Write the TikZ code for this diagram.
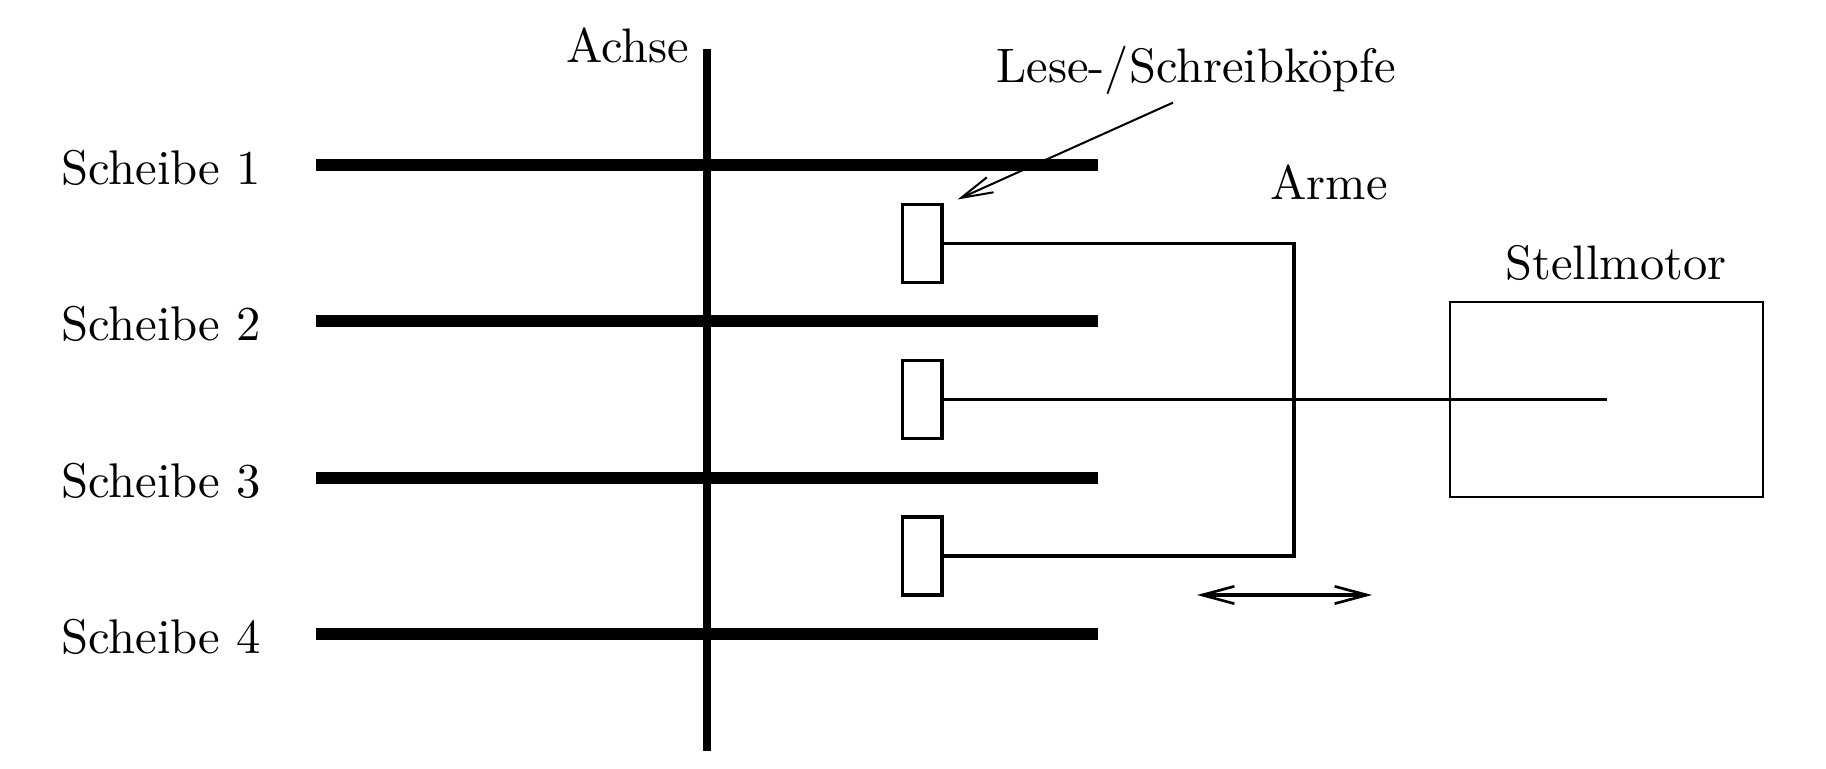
\documentclass[tikz,border=0pt]{standalone}
\usetikzlibrary{arrows.meta}
\tikzset{
  diskline/.style={line width=2.49pt},
  axisline/.style={line width=1.55pt},
  armline/.style={line width=0.74pt},
  headbox/.style={draw,line width=0.72pt,rectangle,minimum width=8.2pt,minimum height=16.2pt,inner sep=0pt,outer sep=0pt},
  motorbox/.style={draw,line width=0.42pt,rectangle,minimum width=64.95pt,minimum height=40.55pt,inner sep=0pt,outer sep=0pt},
  lbl/.style={inner sep=0pt,outer sep=0pt,anchor=base west,font=\fontsize{10.1}{12}\selectfont},
  lblb/.style={lbl,font=\fontsize{10.05}{12}\selectfont}
}
\begin{document}
\begin{tikzpicture}[x=0.2075pt,y=-0.2075pt]
\useasboundingbox (0,0) rectangle (1826,768);
% axis
\coordinate (axT) at (707,48.5);
\coordinate (axB) at (707,751);
\draw[axisline] (axT) -- (axB);
% disks
\foreach \n/\yy in {1/164.5,2/321,3/477.8,4/633.8}{
  \coordinate (dL\n) at (316,\yy);
  \coordinate (dR\n) at (1098,\yy);
  \draw[diskline] (dL\n) -- (dR\n);
}
% labels
\node[lbl] (s1) at (61,184) {Scheibe 1};
\node[lbl] (s2) at (61,340.5) {Scheibe 2};
\node[lbl] (s3) at (61,497) {Scheibe 3};
\node[lbl] (s4) at (61,653.4) {Scheibe 4};
\node[lblb] (achse) at (566.5,62.5) {Achse};
\node[lblb] (lese) at (996.5,82.5) {Lese-/Schreibköpfe};
\node[lblb] (arme) at (1270.5,199.7) {Arme};
\node[lblb] (stell) at (1505.5,279) {Stellmotor};
% heads
\node[headbox] (h1) at (922.3,243.3) {};
\node[headbox] (h2) at (922.3,399.7) {};
\node[headbox] (h3) at (922.3,555.9) {};
% motor
\node[motorbox] (motor) at (1606.5,399.3) {};
% arms
\coordinate (j1) at (1294,243.3);
\coordinate (j3) at (1294,555.9);
\coordinate (shaft) at (1607,399.7);
\draw[armline,line cap=round] (h1.east) -- (j1) -- (j3) -- (h3.east);
\draw[armline] (h2.east) -- (shaft);
% pointer
\coordinate (pS) at (1173,102.6);
\coordinate (pE) at (957.5,199.5);
\draw[line width=0.42pt,-{Straight Barb[length=6.6pt,width=3.4pt,line width=0.42pt]}] (pS) -- (pE);
% motion arrow
\coordinate (mL) at (1197,595);
\coordinate (mR) at (1372,595);
\draw[line width=0.75pt,{Straight Barb[length=6.7pt,width=3.6pt,line width=0.55pt]}-{Straight Barb[length=6.7pt,width=3.6pt,line width=0.55pt]}] (mL) -- (mR);
\end{tikzpicture}
\end{document}
